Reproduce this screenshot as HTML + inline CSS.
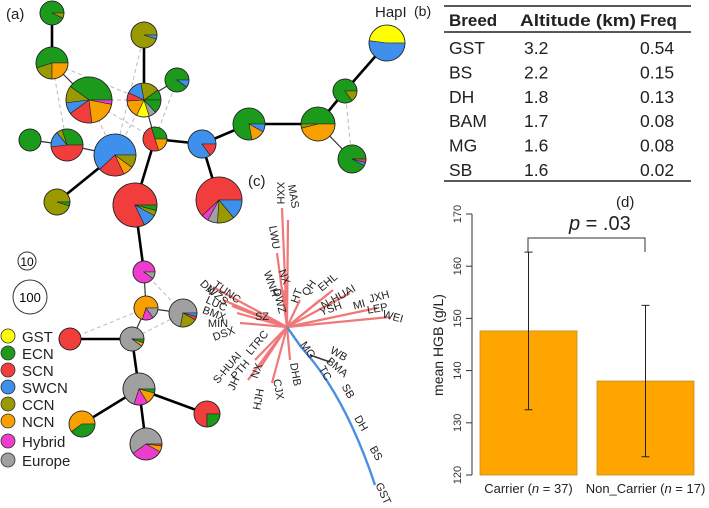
<!DOCTYPE html>
<html><head><meta charset="utf-8"><style>
html,body{margin:0;padding:0;background:#fff;}
svg{display:block;font-family:"Liberation Sans",Arial,sans-serif;}
</style></head><body>
<svg id="fig" width="709" height="508" viewBox="0 0 709 508">
<text x="6" y="19" font-size="15" fill="#222">(a)</text>
<text x="375" y="17" font-size="15" fill="#222">HapI</text>
<g id="edges"></g>
<g id="pies"></g>
<g>
<circle cx="27" cy="261" r="9" fill="none" stroke="#333"/><text x="27" y="266" font-size="12" text-anchor="middle">10</text>
<circle cx="30" cy="297" r="17" fill="none" stroke="#333"/><text x="30" y="302" font-size="13" text-anchor="middle">100</text>
</g>
<g id="legend"></g>

<text x="414" y="16" font-size="14" fill="#222">(b)</text>
<g font-size="17.5" fill="#222">
<line x1="444" y1="6" x2="691" y2="6" stroke="#222" stroke-width="1.5"/>
<line x1="444" y1="32" x2="691" y2="32" stroke="#222" stroke-width="1.5"/>
<line x1="444" y1="181" x2="691" y2="181" stroke="#222" stroke-width="1.5"/>
<g font-weight="bold" font-size="17"><text x="449" y="26">Breed</text><text x="520" y="26" textLength="116" lengthAdjust="spacingAndGlyphs">Altitude (km)</text><text x="640" y="26">Freq</text></g>
<g id="tbl"></g>
</g>

<text x="248" y="186" font-size="15" fill="#222">(c)</text>
<g id="tree"></g>

<text x="616" y="207" font-size="15" fill="#222">(d)</text>
<g id="chart"></g>
</svg>
<script>
var NS="http://www.w3.org/2000/svg";
function mk(tag,attrs,parent,txt){var e=document.createElementNS(NS,tag);for(var k in attrs)e.setAttribute(k,attrs[k]);if(txt!==undefined)e.textContent=txt;parent.appendChild(e);return e;}
var C={Y:"#ffff00",G:"#1b9a1b",R:"#f23d3d",B:"#3e90ec",O:"#999900",N:"#f7a000",M:"#ee3ccf",E:"#a0a0a0"};
var nodes=[
[52,13,12,[["G",.93],["O",.07]]],
[52,63,16,[["G",.55],["O",.2],["N",.25]]],
[89,100,23,[["G",.4],["O",.12],["B",.08],["R",.17],["N",.2],["M",.03]]],
[144,100,17,[["G",.1],["O",.18],["B",.15],["R",.08],["N",.17],["Y",.12],["E",.07],["G",.13]]],
[144,35,13,[["O",.95],["B",.05]]],
[177,80,12,[["G",.9],["B",.1]]],
[30,140,11,[["G",1]]],
[67,145,16,[["G",.3],["O",.06],["B",.16],["R",.48]]],
[115,155,21,[["B",.62],["R",.2],["N",.08],["O",.1]]],
[155,139,12,[["G",.3],["R",.5],["N",.2]]],
[202,144,14,[["B",.85],["R",.15]]],
[249,124,16,[["G",.78],["N",.14],["B",.08]]],
[318,124,17,[["G",.5],["O",.04],["N",.46]]],
[345,91,12,[["G",.85],["O",.15]]],
[352,159,14,[["G",.92],["B",.04],["R",.04]]],
[387,43,18,[["Y",.48],["B",.52]]],
[57,202,13,[["O",.95],["G",.05]]],
[135,205,22,[["R",.82],["B",.1],["O",.04],["G",.04]]],
[219,200,23,[["R",.62],["M",.05],["E",.07],["O",.12],["B",.14]]],
[144,272,11,[["M",.9],["E",.1]]],
[146,308,12,[["N",.7],["M",.15],["E",.15]]],
[183,313,14,[["E",.72],["O",.2],["R",.04],["B",.04]]],
[132,339,12,[["E",.9],["N",.05],["G",.05]]],
[70,339,11,[["R",1]]],
[139,389,16,[["E",.7],["M",.14],["N",.12],["G",.04]]],
[82,424,13,[["N",.6],["G",.4]]],
[207,414,13,[["R",.75],["G",.25]]],
[146,444,16,[["E",.6],["M",.32],["N",.06],["R",.02]]]
];
var thick=[[0,1],[4,3],[8,16],[9,17],[10,18],[10,11],[11,12],[12,13],[13,15],[17,19],[22,23],[22,24],[24,25],[24,26],[24,27],[9,10]];
var thin=[[1,2],[3,5],[6,7],[7,8],[3,9],[12,14],[19,20],[20,21],[20,22]];
var dashed=[[1,3],[1,7],[2,3],[2,9],[3,8],[2,8],[5,9],[4,8],[13,14],[19,21],[20,23],[21,22]];
var eg=document.getElementById('edges');
dashed.forEach(function(p){var a=nodes[p[0]],b=nodes[p[1]];var l=mk('line',{x1:a[0],y1:a[1],x2:b[0],y2:b[1],stroke:'#bbb','stroke-width':1,'stroke-dasharray':'4,3'},eg);

});
thin.forEach(function(p){var a=nodes[p[0]],b=nodes[p[1]];var l=mk('line',{x1:a[0],y1:a[1],x2:b[0],y2:b[1],stroke:'#333','stroke-width':1.2},eg);

});
thick.forEach(function(p){var a=nodes[p[0]],b=nodes[p[1]];var l=mk('line',{x1:a[0],y1:a[1],x2:b[0],y2:b[1],stroke:'#000','stroke-width':2.6},eg);

});
var pg=document.getElementById('pies');
nodes.forEach(function(n){var g=mk('g',{},pg);


var cx=n[0],cy=n[1],r=n[2],a0=0;
n[3].forEach(function(s){var f=s[1];if(f>=.999){mk('circle',{cx:cx,cy:cy,r:r,fill:C[s[0]],stroke:'#222','stroke-width':.8},g);return;}
var a1=a0+f*2*Math.PI;var x0=cx+r*Math.cos(a0),y0=cy-r*Math.sin(a0),x1=cx+r*Math.cos(a1),y1=cy-r*Math.sin(a1);
mk('path',{d:'M'+cx+','+cy+'L'+x0+','+y0+'A'+r+','+r+' 0 '+(f>.5?1:0)+' 0 '+x1+','+y1+'Z',fill:C[s[0]],stroke:'#222','stroke-width':.6},g);a0=a1;});
mk('circle',{cx:cx,cy:cy,r:r,fill:'none',stroke:'#222','stroke-width':.8},g);});
var legItems=[["GST","Y",336],["ECN","G",353],["SCN","R",370],["SWCN","B",387],["CCN","O",404],["NCN","N",421],["Hybrid","M",441],["Europe","E",460]];
var lg=document.getElementById('legend');
legItems.forEach(function(it){var g=mk('g',{},lg);


mk('circle',{cx:8,cy:it[2],r:7,fill:C[it[1]],stroke:'#333','stroke-width':.8},g);mk('text',{x:22,y:it[2]+6,'font-size':15,fill:'#222'},g,it[0]);});
var breeds=["GST","BS","DH","BAM","MG","SB"],alts=["3.2","2.2","1.8","1.7","1.6","1.6"],freqs=["0.54","0.15","0.13","0.08","0.08","0.02"];
var tb=document.getElementById('tbl');
breeds.forEach(function(b,i){var y=54+i*24.4;var g=mk('g',{},tb);


mk('text',{x:449,y:y},g,b);mk('text',{x:524,y:y},g,alts[i]);mk('text',{x:640,y:y},g,freqs[i]);});
var tr=document.getElementById('tree');var cx=287,cy=327;
var redTips=[[282,208],[288,220],[277,253],[283,290],[213,287],[223,300],[232,306],[237,313],[240,323],[248,380],[255,360],[260,368],[272,383],[290,360],[390,317],[377,308],[333,290],[350,293],[320,300],[300,300]];
redTips.forEach(function(t){var l=mk('line',{x1:cx,y1:cy,x2:t[0],y2:t[1],stroke:'#f07878','stroke-width':2.2},tr);

});
var bp=mk('path',{d:'M287,327 L301,347 Q345,395 375,485',stroke:'#4a90e0','stroke-width':2.4,fill:'none'},tr);


mk('line',{x1:310,y1:355,x2:330,y2:362,stroke:'#333','stroke-width':1.5},tr);
var labs=[["XXH",277,193,90],["MAS",290,197,80],["LWU",271,238,80],["WNH",268,285,70],["NX",281,278,70],["DWZ",276,302,75],["SZ",262,320,0],["HT",300,297,-70],["QH",312,290,-55],["EHL",330,285,-40],["N-HUAI",340,300,-30],["YSH",332,312,-20],["MI",360,308,-15],["JXH",380,300,-15],["LEP",378,312,-10],["WEI",392,320,15],["TUNC",225,295,35],["DN",205,290,45],["WZS",215,298,40],["LUC",215,307,25],["BMX",213,317,20],["MIN",218,327,0],["DSX",225,337,-20],["LTRC",260,345,-50],["S-HUAI",230,370,-50],["PTH",243,372,-50],["JH",237,385,-65],["NX",260,372,-70],["HJH",262,400,-80],["CJX",275,390,80],["DHB",292,375,80],["MG",305,352,55],["WB",337,357,30],["BMA",335,370,40],["TC",322,375,60],["SB",345,393,60],["DH",358,425,60],["BS",373,455,60],["GST",380,495,65]];
labs.forEach(function(L){var t=mk('text',{x:L[1],y:L[2],'font-size':11,fill:'#222','text-anchor':'middle',transform:'rotate('+L[3]+' '+L[1]+' '+L[2]+')'},tr,L[0]);

});
var groups=["Carrier","Non_Carrier"],ns=["37","17"],means=[147.6,138.0],lows=[132.5,123.5],highs=[162.7,152.5];
var yTicks=[120,130,140,150,160,170];
var ch=document.getElementById('chart');
function yS(v){return 475-(v-120)*5.22;}
var bx=[480,597],bw=97;
mk('line',{x1:472,y1:yS(120),x2:472,y2:yS(170),stroke:'#333'},ch);
yTicks.forEach(function(v){var g=mk('g',{},ch);


mk('line',{x1:466,y1:yS(v),x2:472,y2:yS(v),stroke:'#333'},g);
mk('text',{x:461,y:yS(v),'font-size':11,fill:'#333','text-anchor':'middle',transform:'rotate(-90 461 '+yS(v)+')'},g,v);});
var yt=mk('text',{x:443,y:345,'font-size':14,fill:'#222','text-anchor':'middle',transform:'rotate(-90 443 345)'},ch,'mean HGB (g/L)');


groups.forEach(function(gname,i){
var r=mk('rect',{x:bx[i],y:yS(means[i]),width:bw,height:yS(120)-yS(means[i]),fill:'#ffa500',stroke:'#c08a20','stroke-width':.8},ch);


var xc=bx[i]+bw/2;
var e=mk('g',{stroke:'#222','stroke-width':1},ch);


mk('line',{x1:xc,y1:yS(lows[i]),x2:xc,y2:yS(highs[i])},e);
mk('line',{x1:xc-4,y1:yS(lows[i]),x2:xc+4,y2:yS(lows[i])},e);
mk('line',{x1:xc-4,y1:yS(highs[i]),x2:xc+4,y2:yS(highs[i])},e);
var t=mk('text',{x:xc,y:493,'font-size':13,fill:'#222','text-anchor':'middle'},ch);


t.appendChild(document.createTextNode(gname+' ('));mk('tspan',{'font-style':'italic'},t,'n');t.appendChild(document.createTextNode(' = '+ns[i]+')'));});
var br=mk('path',{d:'M528,252 L528,238 L645,238 L645,252',fill:'none',stroke:'#333','stroke-width':1},ch);


var pt=mk('text',{x:569,y:230,'font-size':20,fill:'#222'},ch);


mk('tspan',{'font-style':'italic'},pt,'p');pt.appendChild(document.createTextNode(' = .03'));
</script>
</body></html>
